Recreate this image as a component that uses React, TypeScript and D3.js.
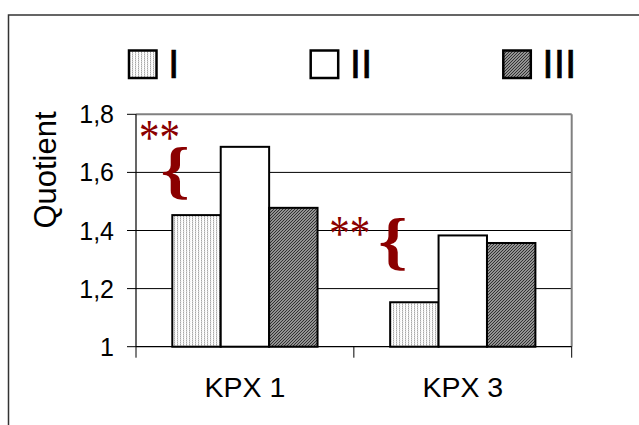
import React from "react";
import * as d3 from "d3";

const categories = ["KPX 1", "KPX 3"];
const seriesNames = ["I", "II", "III"];
const valuesI = [1.453, 1.153];
const valuesII = [1.688, 1.383];
const valuesIII = [1.478, 1.357];
const yTicks = [1, 1.2, 1.4, 1.6, 1.8];
const yTickLabels = ["1", "1,2", "1,4", "1,6", "1,8"];
const yTitle = "Quotient";
const annotationText = "**";
const braceText = "{";

const W = 639;
const H = 425;
const FONT = "'Liberation Sans', Arial, sans-serif";
const SERIF = "'Liberation Serif', 'Times New Roman', serif";
const RED = "#8b0000";

export default function App() {
  const x0 = d3.scaleBand<string>().domain(categories).range([136, 571.7]).paddingInner(0).paddingOuter(0);
  const x1 = d3.scaleBand<string>().domain(seriesNames).range([0, x0.bandwidth()]).paddingInner(0).paddingOuter(0.75);
  const y = d3.scaleLinear().domain([1, 1.8]).range([346.7, 114.3]);

  const series = [valuesI, valuesII, valuesIII];
  const fills = ["url(#patI)", "#ffffff", "url(#patIII)"];

  // annotation anchors: x offset from category band start, y (baseline) in data units
  const stars = [
    { cat: "KPX 1", dx: 3, yv: 1.664 },
    { cat: "KPX 3", dx: -24.5, yv: 1.334 },
  ];
  const braces = [
    { cat: "KPX 1", dx: 24.5, yv: 1.536 },
    { cat: "KPX 3", dx: 24.5, yv: 1.29 },
  ];

  const legendX = [129, 310.7, 503.3];

  return (
    <svg
      width={W}
      height={H}
      style={{ position: "absolute", left: 0, top: 0, background: "#fff" }}
      fontFamily={FONT}
    >
      <defs>
        <pattern id="patI" patternUnits="userSpaceOnUse" width={3} height={2}>
          <rect width={3} height={2} fill="#ffffff" />
          <rect x={0} y={0} width={1} height={1} fill="#a8a8a8" />
          <rect x={0} y={1} width={1} height={1} fill="#d0d0d0" />
          <rect x={1} y={1} width={1} height={1} fill="#eeeeee" />
        </pattern>
        <pattern id="patIII" patternUnits="userSpaceOnUse" width={3} height={3}>
          <rect width={3} height={3} fill="#bdbdbd" />
          <path d="M-1,1 L1,-1 M0,3 L3,0 M2,4 L4,2" stroke="#2a2a2a" strokeWidth={1.1} />
        </pattern>
      </defs>

      {/* outer frame */}
      <rect x={8.5} y={15} width={700} height={500} fill="none" stroke="#333" strokeWidth={1.5} />

      {/* legend */}
      {seriesNames.map((s, i) => (
        <g key={s}>
          <rect x={legendX[i]} y={50.5} width={27.5} height={27.5} fill={fills[i]} stroke="#000" strokeWidth={2.5} />
          <text x={legendX[i] + 39} y={78.3} fontSize={41} fill="#000" stroke="#000" strokeWidth={0.6}>
            {s}
          </text>
        </g>
      ))}

      {/* gridlines */}
      {yTicks.slice(1, -1).map((t) => (
        <line key={t} x1={136} x2={571.7} y1={y(t)} y2={y(t)} stroke="#000" strokeWidth={1} />
      ))}
      {/* plot border top & right */}
      <line x1={136} x2={571.7} y1={y(1.8)} y2={y(1.8)} stroke="#808080" strokeWidth={2} />
      <line x1={571.7} x2={571.7} y1={y(1.8)} y2={y(1)} stroke="#808080" strokeWidth={2} />

      {/* bars */}
      {categories.map((c, ci) => (
        <g key={c}>
          {seriesNames.map((s, si) => {
            const bx = (x0(c) as number) + (x1(s) as number);
            const v = series[si][ci];
            return (
              <rect
                key={s}
                x={bx}
                y={y(v)}
                width={x1.bandwidth()}
                height={y(1) - y(v)}
                fill={fills[si]}
                stroke="#000"
                strokeWidth={2}
              />
            );
          })}
        </g>
      ))}

      {/* axes */}
      <line x1={136} x2={136} y1={y(1.8)} y2={y(1)} stroke="#000" strokeWidth={1.2} />
      <line x1={136} x2={571.7} y1={y(1)} y2={y(1)} stroke="#000" strokeWidth={1.2} />
      {yTicks.map((t, i) => (
        <g key={t}>
          <line x1={127} x2={136} y1={y(t)} y2={y(t)} stroke="#000" strokeWidth={1} />
          <text x={114} y={y(t)} dy="0.36em" textAnchor="end" fontSize={25} fill="#000">
            {yTickLabels[i]}
          </text>
        </g>
      ))}
      {[...categories.map((c) => x0(c) as number), 571.7].map((xv, i) => (
        <line key={i} x1={xv} x2={xv} y1={y(1)} y2={y(1) + 11} stroke="#000" strokeWidth={1} />
      ))}
      {categories.map((c) => (
        <text
          key={c}
          x={(x0(c) as number) + x0.bandwidth() / 2}
          y={397.3}
          textAnchor="middle"
          fontSize={28.5}
          fill="#000"
        >
          {c}
        </text>
      ))}

      {/* y title */}
      <text
        transform={`translate(56,${(108.3 + 231.7) / 2}) rotate(-90)`}
        textAnchor="middle"
        fontSize={31}
        fill="#000"
      >
        {yTitle}
      </text>

      {/* annotations */}
      {stars.map((s, i) => (
        <text
          key={i}
          transform={`translate(${(x0(s.cat) as number) + s.dx},${y(s.yv)}) scale(1,1.25)`}
          fontSize={41}
          fontFamily={SERIF}
          fill={RED}
        >
          {annotationText}
        </text>
      ))}
      {braces.map((b, i) => (
        <text
          key={i}
          transform={`translate(${(x0(b.cat) as number) + b.dx},${y(b.yv)}) scale(1.18,1)`}
          fontSize={63}
          fontFamily={SERIF}
          fontWeight="bold"
          fill={RED}
        >
          {braceText}
        </text>
      ))}
    </svg>
  );
}
